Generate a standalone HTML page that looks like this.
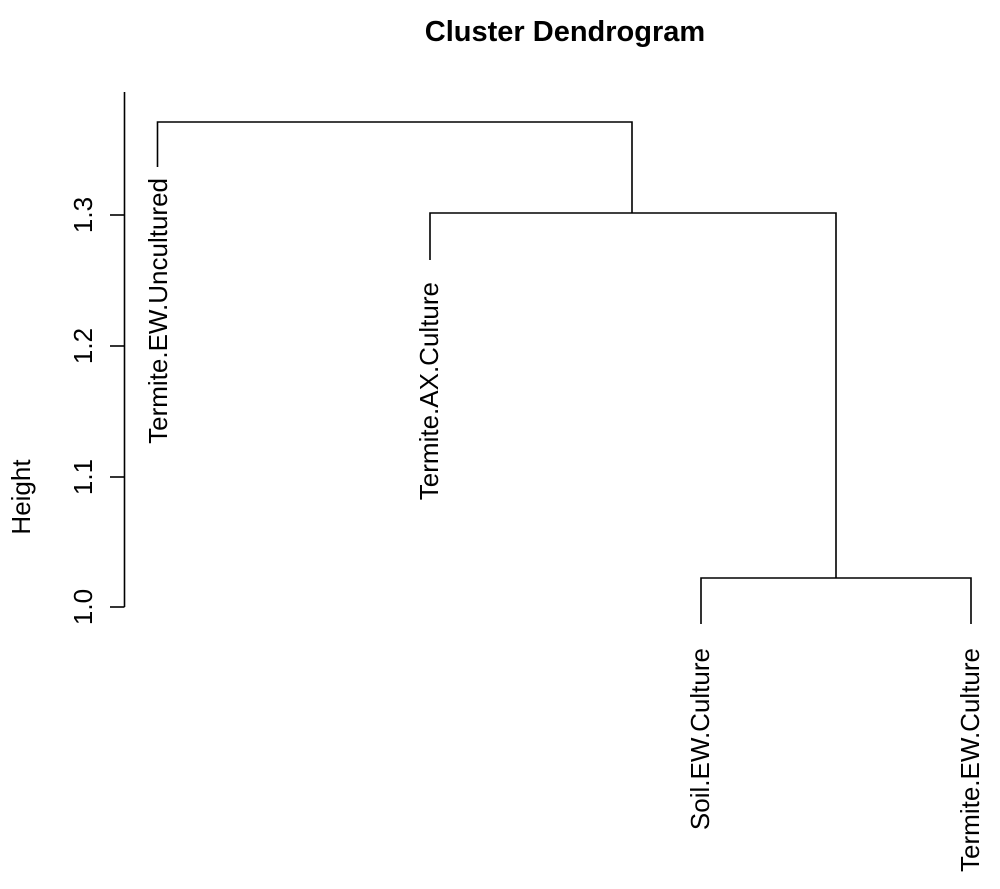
<!DOCTYPE html>
<html><head><style>html,body{margin:0;padding:0;background:#fff}</style></head>
<body>
<svg width="1000" height="884" viewBox="0 0 1000 884" xmlns="http://www.w3.org/2000/svg" font-family="Liberation Sans, sans-serif">
<rect width="1000" height="884" fill="#fff"/>
<text x="565" y="41" text-anchor="middle" font-weight="bold" font-size="29">Cluster Dendrogram</text>
<g stroke="#000" stroke-width="1.6" fill="none">
<line x1="124.5" y1="92" x2="124.5" y2="607"/>
<line x1="110" y1="607" x2="124.5" y2="607"/>
<line x1="110" y1="477" x2="124.5" y2="477"/>
<line x1="110" y1="346" x2="124.5" y2="346"/>
<line x1="110" y1="215" x2="124.5" y2="215"/>
<polyline points="157.5,167 157.5,122 632,122 632,213"/>
<polyline points="430,260 430,213 836,213 836,578"/>
<polyline points="701,624 701,578 971,578 971,624"/>
</g>
<g font-size="26">
<text transform="translate(92,607) rotate(-90)" text-anchor="middle">1.0</text>
<text transform="translate(92,477) rotate(-90)" text-anchor="middle">1.1</text>
<text transform="translate(92,346) rotate(-90)" text-anchor="middle">1.2</text>
<text transform="translate(92,215) rotate(-90)" text-anchor="middle">1.3</text>
<text transform="translate(30,497) rotate(-90)" text-anchor="middle">Height</text>
<text transform="translate(167,178) rotate(-90)" text-anchor="end">Termite.EW.Uncultured</text>
<text transform="translate(438,282) rotate(-90)" text-anchor="end">Termite.AX.Culture</text>
<text transform="translate(709,648) rotate(-90)" text-anchor="end">Soil.EW.Culture</text>
<text transform="translate(979,648) rotate(-90)" text-anchor="end">Termite.EW.Culture</text>
</g>
</svg>
</body></html>
